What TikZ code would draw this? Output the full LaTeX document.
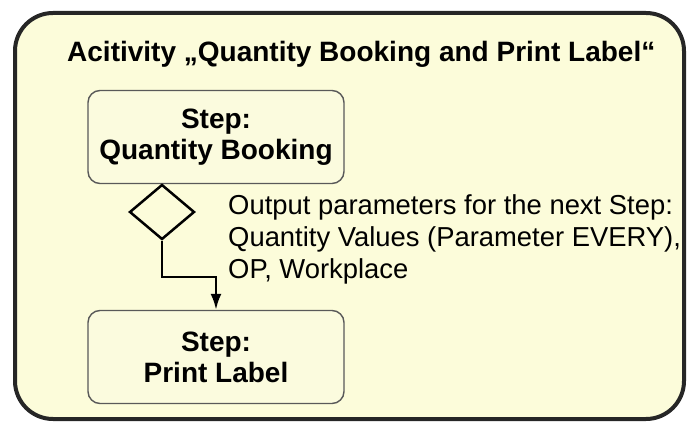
\documentclass[tikz,border=0pt]{standalone}
\usepackage{fontspec}
\setmainfont{Liberation Sans}
\usetikzlibrary{shapes.geometric,arrows.meta}
\definecolor{framefill}{HTML}{FCFCDA}
\definecolor{stepfill}{HTML}{FBFBDE}
\begin{document}
\begin{tikzpicture}[x=1pt,y=-1pt,
  frame/.style={draw=black!85,line width=4pt,rounded corners=38pt,fill=framefill},
  stepbox/.style={draw=black!65,fill=stepfill,line width=1.4pt,rounded corners=12pt,minimum width=256pt,minimum height=93pt,align=center,font=\fontsize{28}{31}\selectfont\bfseries,inner sep=0pt},
  decision/.style={diamond,draw=black,line width=2.5pt,minimum width=65pt,minimum height=55pt,inner sep=0pt},
  note/.style={align=left,font=\fontsize{27.4}{32}\selectfont,inner sep=0pt}]
\useasboundingbox (0,0) rectangle (688,427);
\draw[frame] (15,13) rectangle (684,419);
\node[anchor=base west,inner sep=0pt,font=\fontsize{28}{31}\selectfont\bfseries] (title) at (67,62) {Acitivity „Quantity Booking and Print Label“};
\node[stepbox] (booking) at (216,137) {Step:\\Quantity Booking};
\node[decision] (gate) at (162,212) {};
\node[note,anchor=north west] (params) at (228,194) {Output parameters for the next Step:\\Quantity Values (Parameter EVERY),\\OP, Workplace};
\node[stepbox] (printlabel) at (216,357) {Step:\\Print Label};
\coordinate (elbow) at (216,277);
\draw[line width=2.5pt,-{Latex[length=16pt,width=11pt]}] (gate.south) |- (elbow) -- (printlabel.north);
\end{tikzpicture}
\end{document}
